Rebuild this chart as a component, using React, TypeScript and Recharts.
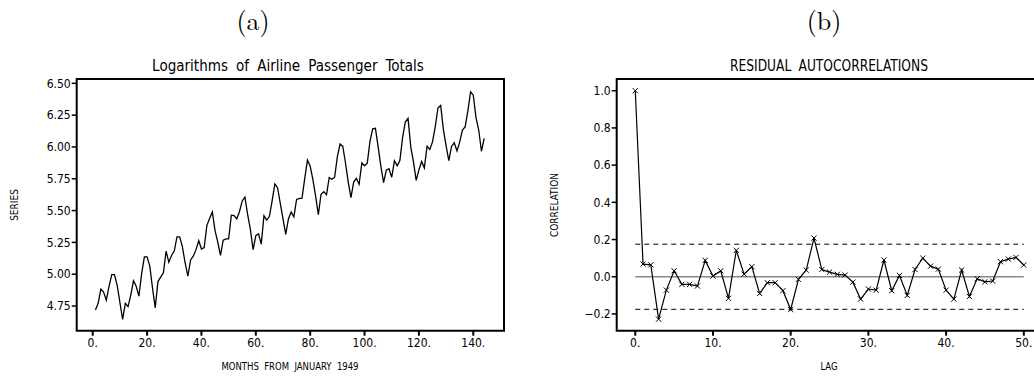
import React from 'react';
import { LineChart, Line, XAxis, YAxis, ReferenceArea, ReferenceLine } from 'recharts';

// log of monthly airline passenger totals, Jan 1949 - Dec 1960
const logPassengers = [
  4.718, 4.771, 4.883, 4.860, 4.796, 4.905, 4.997, 4.997, 4.913, 4.779, 4.644, 4.771,
  4.745, 4.836, 4.949, 4.905, 4.828, 5.004, 5.136, 5.136, 5.063, 4.890, 4.736, 4.942,
  4.977, 5.011, 5.182, 5.094, 5.147, 5.182, 5.293, 5.293, 5.215, 5.088, 4.984, 5.112,
  5.142, 5.193, 5.263, 5.198, 5.209, 5.384, 5.438, 5.489, 5.342, 5.252, 5.147, 5.268,
  5.278, 5.278, 5.464, 5.460, 5.434, 5.493, 5.576, 5.606, 5.468, 5.352, 5.193, 5.303,
  5.318, 5.236, 5.460, 5.425, 5.455, 5.576, 5.710, 5.680, 5.557, 5.434, 5.313, 5.434,
  5.489, 5.451, 5.587, 5.595, 5.598, 5.753, 5.897, 5.849, 5.743, 5.613, 5.468, 5.628,
  5.649, 5.624, 5.759, 5.746, 5.762, 5.924, 6.023, 6.004, 5.872, 5.724, 5.602, 5.724,
  5.753, 5.707, 5.875, 5.852, 5.872, 6.045, 6.142, 6.146, 6.001, 5.849, 5.720, 5.817,
  5.829, 5.762, 5.892, 5.852, 5.894, 6.075, 6.196, 6.225, 6.001, 5.883, 5.737, 5.820,
  5.886, 5.835, 6.006, 5.981, 6.040, 6.157, 6.306, 6.326, 6.138, 6.009, 5.892, 6.004,
  6.033, 5.969, 6.038, 6.133, 6.157, 6.282, 6.433, 6.407, 6.230, 6.133, 5.966, 6.068,
];

// residual autocorrelations, lags 0..50
const residualAcf = [
  1.0, 0.068, 0.064, -0.228, -0.072, 0.032, -0.041, -0.041, -0.050, 0.088,
  0.004, 0.032, -0.116, 0.142, 0.014, 0.054, -0.090, -0.032, -0.032, -0.075,
  -0.176, -0.014, 0.036, 0.208, 0.039, 0.025, 0.013, 0.009, -0.029, -0.120,
  -0.066, -0.072, 0.090, -0.075, 0.007, -0.100, 0.039, 0.100, 0.057, 0.041,
  -0.072, -0.120, 0.036, -0.106, -0.011, -0.027, -0.023, 0.081, 0.095, 0.104,
  0.063,
];

const monthTicks = [0, 20, 40, 60, 80, 100, 120, 140];
const seriesTicks = [4.75, 5.0, 5.25, 5.5, 5.75, 6.0, 6.25, 6.5];
const lagTicks = [0, 10, 20, 30, 40, 50];
const corrTicks = [-0.2, 0.0, 0.2, 0.4, 0.6, 0.8, 1.0];
const confLimit = 0.175;

const seriesData = logPassengers.map((value, i) => ({ month: i + 1, value }));
const acfData = residualAcf.map((value, lag) => ({ lag, value }));

const plotFont = "'Liberation Sans Narrow', 'DejaVu Sans Condensed', 'Nimbus Sans Narrow', 'Arial Narrow', sans-serif";
const tickStyle = { fill: '#000', fontSize: 12, fontFamily: plotFont };

const CrossDot = (props: any) => {
  const { cx, cy } = props;
  if (cx == null || cy == null) return null;
  const s = 2.6;
  return (
    <g stroke="#000" strokeWidth={1}>
      <line x1={cx - s} y1={cy - s} x2={cx + s} y2={cy + s} />
      <line x1={cx - s} y1={cy + s} x2={cx + s} y2={cy - s} />
    </g>
  );
};

const Label = ({ x, y, size, text, rotate, serif, spacing, squeeze }: any) => (
  <div
    style={{
      position: 'absolute',
      left: x,
      top: y,
      transform: `translate(-50%, -50%)${rotate ? ' rotate(-90deg)' : ''}${squeeze ? ` scaleX(${squeeze})` : ''}`,
      whiteSpace: 'nowrap',
      fontSize: size,
      fontFamily: serif ? "'Latin Modern Roman', 'DejaVu Serif', 'Liberation Serif', serif" : plotFont,
      wordSpacing: spacing ?? 0,
      color: '#000',
      lineHeight: 1,
    }}
  >
    {text}
  </div>
);

export default function App() {
  return (
    <div style={{ position: 'absolute', left: 0, top: 0, width: 1034, height: 376, overflow: 'hidden', background: '#fff' }}>
      <Label x={253} y={20} size={26} text="(a)" serif />
      <Label x={824} y={20} size={26} text="(b)" serif />
      <Label x={288} y={66} size={16} text="Logarithms of Airline Passenger Totals" spacing={4} squeeze={0.94} />
      <Label x={829} y={66} size={16} text="RESIDUAL AUTOCORRELATIONS" spacing={4} squeeze={0.85} />
      <Label x={15} y={205} size={10} text="SERIES" rotate />
      <Label x={555} y={205} size={10} text="CORRELATION" rotate />
      <Label x={290} y={366} size={10.5} text="MONTHS FROM JANUARY 1949" spacing={3} squeeze={0.9} />
      <Label x={829} y={366} size={10.5} text="LAG" squeeze={0.9} />

      <div style={{ position: 'absolute', left: 0, top: 0 }}>
        <LineChart width={530} height={376} data={seriesData} margin={{ top: 79, right: 26, bottom: 0, left: 0 }}>
          <XAxis
            dataKey="month"
            type="number"
            domain={[-5.89, 151.3]}
            ticks={monthTicks}
            tickFormatter={(v: number) => `${v}.`}
            axisLine={false}
            tickLine={{ stroke: '#000', strokeWidth: 2 }}
            tickSize={5}
            tickMargin={3}
            height={45.3}
            tick={tickStyle}
            allowDataOverflow
          />
          <YAxis
            type="number"
            domain={[4.556, 6.534]}
            ticks={seriesTicks}
            tickFormatter={(v: number) => v.toFixed(2)}
            axisLine={false}
            tickLine={{ stroke: '#000', strokeWidth: 1.5 }}
            tickSize={5}
            tickMargin={1}
            width={76.7}
            tick={tickStyle}
            allowDataOverflow
          />
          <ReferenceArea x1={-5.89} x2={151.3} y1={4.556} y2={6.534} fill="none" stroke="#000" strokeWidth={2} ifOverflow="visible" />
          <Line dataKey="value" stroke="#000" strokeWidth={1.3} dot={false} isAnimationActive={false} />
        </LineChart>
      </div>

      <div style={{ position: 'absolute', left: 530, top: 0 }}>
        <LineChart width={510} height={376} data={acfData} margin={{ top: 79, right: 4, bottom: 0, left: 0 }}>
          <XAxis
            dataKey="lag"
            type="number"
            domain={[-2.39, 51.57]}
            ticks={lagTicks}
            tickFormatter={(v: number) => `${v}.`}
            axisLine={false}
            tickLine={{ stroke: '#000', strokeWidth: 2 }}
            tickSize={5}
            tickMargin={3}
            height={45.3}
            tick={tickStyle}
            allowDataOverflow
          />
          <YAxis
            type="number"
            domain={[-0.29, 1.063]}
            ticks={corrTicks}
            tickFormatter={(v: number) => (v < 0 ? `\u2212${Math.abs(v).toFixed(1)}` : v.toFixed(1))}
            axisLine={false}
            tickLine={{ stroke: '#000', strokeWidth: 1.5 }}
            tickSize={5}
            tickMargin={1}
            width={86.7}
            tick={tickStyle}
            allowDataOverflow
          />
          <ReferenceArea x1={-2.39} x2={51.57} y1={-0.29} y2={1.063} fill="none" stroke="#000" strokeWidth={2} ifOverflow="visible" />
          <ReferenceLine segment={[{ x: 0, y: 0 }, { x: 50, y: 0 }]} stroke="#888" strokeWidth={1.3} />
          <ReferenceLine segment={[{ x: 0, y: confLimit }, { x: 50, y: confLimit }]} stroke="#000" strokeDasharray="5 4" strokeWidth={1} />
          <ReferenceLine segment={[{ x: 0, y: -confLimit }, { x: 50, y: -confLimit }]} stroke="#000" strokeDasharray="5 4" strokeWidth={1} />
          <Line dataKey="value" stroke="#000" strokeWidth={1.2} dot={<CrossDot />} isAnimationActive={false} />
        </LineChart>
      </div>
    </div>
  );
}
